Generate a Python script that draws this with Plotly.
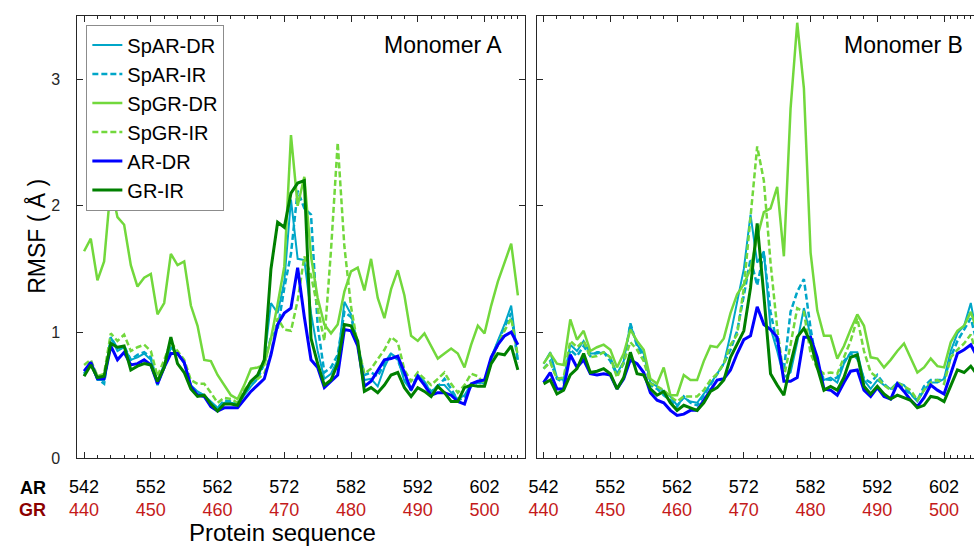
import plotly.graph_objects as go

residues = list(range(542, 608))

# ---------------- Monomer A ----------------
a_spar_dr = [0.66,0.75,0.62,0.62,0.96,0.85,0.88,0.78,0.80,0.83,0.78,0.61,0.74,0.88,0.83,0.75,0.58,0.53,0.50,0.45,
             0.40,0.44,0.44,0.43,0.50,0.57,0.63,0.78,1.23,1.15,1.40,2.05,1.58,1.57,1.15,0.85,0.63,0.67,0.78,1.24,
             1.14,0.90,0.62,0.63,0.57,0.72,0.83,0.79,0.61,0.54,0.66,0.61,0.52,0.58,0.58,0.52,0.47,0.50,0.59,0.61,
             0.59,0.80,0.93,1.06,1.21,0.78]
a_spar_ir = [0.67,0.76,0.63,0.59,0.96,0.87,0.89,0.78,0.82,0.84,0.80,0.58,0.74,0.88,0.83,0.76,0.57,0.52,0.50,0.43,
             0.40,0.46,0.45,0.44,0.52,0.58,0.63,0.75,0.96,1.02,1.35,1.62,2.12,1.98,1.93,1.05,0.68,0.72,0.82,1.16,
             1.12,0.88,0.66,0.68,0.65,0.75,0.83,0.78,0.64,0.55,0.66,0.60,0.53,0.57,0.63,0.55,0.46,0.48,0.57,0.60,
             0.59,0.78,0.92,1.04,1.15,0.76]
a_spgr_dr = [1.64,1.74,1.41,1.56,2.16,1.91,1.85,1.53,1.36,1.43,1.46,1.14,1.23,1.62,1.53,1.56,1.21,1.05,0.78,0.77,
             0.66,0.58,0.50,0.47,0.58,0.71,0.72,0.74,0.95,1.22,1.52,2.56,2.00,2.23,1.60,1.27,1.06,0.99,1.06,1.32,
             1.48,1.51,1.33,1.58,1.27,1.11,1.34,1.49,1.29,0.97,0.93,0.99,0.89,0.79,0.83,0.87,0.83,0.72,0.90,1.05,
             0.99,1.21,1.40,1.55,1.70,1.29]
a_spgr_ir = [0.74,0.78,0.65,0.67,0.99,0.93,0.98,0.85,0.88,0.90,0.85,0.65,0.78,0.92,0.85,0.78,0.62,0.59,0.59,0.52,
             0.44,0.48,0.47,0.44,0.54,0.61,0.63,0.67,0.83,1.11,1.02,1.01,1.25,1.60,1.45,1.20,0.93,1.65,2.50,1.68,
             1.20,0.90,0.67,0.71,0.79,0.86,0.96,0.92,0.70,0.61,0.68,0.63,0.58,0.63,0.68,0.59,0.52,0.58,0.67,0.65,
             0.59,0.76,0.90,1.01,1.11,0.81]
a_ar_dr = [0.69,0.76,0.63,0.63,0.89,0.78,0.84,0.74,0.75,0.78,0.74,0.59,0.72,0.83,0.83,0.76,0.57,0.50,0.49,0.41,
           0.375,0.40,0.40,0.40,0.465,0.53,0.58,0.63,0.82,1.06,1.15,1.19,1.51,1.12,0.78,0.72,0.56,0.61,0.66,1.02,
           1.01,0.89,0.57,0.61,0.70,0.78,0.79,0.81,0.68,0.54,0.65,0.58,0.50,0.52,0.52,0.50,0.45,0.43,0.59,0.61,
           0.62,0.80,0.90,0.97,1.00,0.90]
a_gr_ir = [0.65,0.74,0.64,0.65,0.91,0.88,0.89,0.70,0.73,0.75,0.74,0.61,0.72,0.96,0.75,0.68,0.55,0.49,0.50,0.43,
           0.375,0.43,0.43,0.42,0.52,0.61,0.66,0.78,1.50,1.87,1.83,2.10,2.18,2.20,0.95,0.75,0.58,0.62,0.75,1.06,
           1.05,0.93,0.53,0.56,0.52,0.58,0.66,0.68,0.56,0.49,0.56,0.53,0.49,0.57,0.52,0.45,0.45,0.56,0.58,0.57,
           0.57,0.75,0.83,0.82,0.89,0.70]

# ---------------- Monomer B ----------------
b_spar_dr = [0.75,0.84,0.64,0.62,0.90,0.85,0.93,0.83,0.83,0.84,0.80,0.67,0.77,1.06,0.90,0.83,0.60,0.57,0.53,0.49,
             0.42,0.48,0.45,0.44,0.51,0.59,0.67,0.75,0.98,1.24,1.50,1.93,1.55,1.64,1.03,0.85,0.64,0.68,0.92,1.19,
             0.98,0.75,0.62,0.64,0.60,0.75,0.84,0.84,0.62,0.55,0.62,0.58,0.55,0.60,0.58,0.51,0.45,0.54,0.60,0.60,
             0.63,0.85,0.99,1.05,1.23,0.95]
b_spar_ir = [0.71,0.77,0.63,0.60,0.86,0.81,0.89,0.81,0.84,0.84,0.77,0.66,0.75,1.07,0.89,0.80,0.58,0.55,0.50,0.46,
             0.41,0.49,0.44,0.42,0.50,0.58,0.66,0.75,0.86,1.01,1.29,1.58,1.37,1.63,1.16,0.90,0.70,1.16,1.32,1.42,
             1.03,0.72,0.63,0.62,0.64,0.77,0.83,0.79,0.63,0.60,0.66,0.59,0.54,0.59,0.55,0.51,0.46,0.57,0.62,0.62,
             0.62,0.80,0.93,1.02,1.11,0.90]
b_spgr_dr = [0.75,0.83,0.75,0.74,1.10,0.94,1.01,0.85,0.88,0.90,0.86,0.72,0.83,1.02,0.93,0.86,0.63,0.59,0.72,0.50,
             0.50,0.66,0.62,0.62,0.77,0.89,0.88,0.95,1.15,1.30,1.38,1.50,1.75,1.95,1.98,2.15,1.60,2.77,3.45,2.93,
             1.63,1.17,0.97,0.97,0.79,0.89,1.02,1.14,1.05,0.80,0.79,0.72,0.78,0.85,0.91,0.80,0.68,0.72,0.79,0.73,
             0.72,0.92,1.01,1.05,1.16,1.00]
b_spgr_ir = [0.71,0.76,0.63,0.64,0.93,0.88,0.93,0.80,0.81,0.84,0.80,0.64,0.76,0.92,0.86,0.77,0.59,0.57,0.54,0.49,
             0.45,0.49,0.49,0.49,0.54,0.62,0.67,0.75,0.90,0.98,1.35,1.94,2.47,2.20,1.55,1.03,0.64,0.90,1.19,1.16,
             0.83,0.71,0.67,0.68,0.67,0.80,0.93,1.11,0.85,0.68,0.64,0.58,0.54,0.60,0.57,0.54,0.46,0.54,0.60,0.62,
             0.59,0.80,0.86,0.91,0.98,0.80]
b_ar_dr = [0.60,0.68,0.55,0.55,0.82,0.72,0.78,0.67,0.66,0.67,0.66,0.55,0.63,0.78,0.75,0.68,0.52,0.46,0.44,0.38,
           0.34,0.35,0.38,0.38,0.46,0.54,0.62,0.63,0.70,0.83,0.94,0.97,1.20,1.06,1.02,0.96,0.61,0.61,0.64,0.96,
           0.96,0.80,0.55,0.54,0.50,0.60,0.69,0.70,0.54,0.49,0.56,0.49,0.47,0.59,0.53,0.46,0.41,0.48,0.58,0.54,
           0.51,0.67,0.83,0.86,0.90,0.80]
b_gr_ir = [0.59,0.62,0.51,0.54,0.66,0.71,0.83,0.68,0.69,0.71,0.67,0.55,0.64,0.84,0.67,0.66,0.55,0.50,0.53,0.44,
           0.38,0.42,0.40,0.38,0.44,0.53,0.56,0.62,0.80,0.90,1.01,1.35,1.86,1.29,0.67,0.58,0.50,0.75,0.96,1.03,
           0.92,0.72,0.54,0.57,0.54,0.64,0.80,0.82,0.57,0.51,0.57,0.51,0.47,0.50,0.48,0.46,0.40,0.42,0.49,0.48,
           0.45,0.58,0.70,0.68,0.73,0.66]

series_names = ["SpAR-DR", "SpAR-IR", "SpGR-DR", "SpGR-IR", "AR-DR", "GR-IR"]
panel_a = [a_spar_dr, a_spar_ir, a_spgr_dr, a_spgr_ir, a_ar_dr, a_gr_ir]
panel_b = [b_spar_dr, b_spar_ir, b_spgr_dr, b_spgr_ir, b_ar_dr, b_gr_ir]

ar_ticks = [542, 552, 562, 572, 582, 592, 602]
gr_ticks = [440, 450, 460, 470, 480, 490, 500]
y_ticks = [0, 1, 2, 3]

CYAN = "#00A6C8"
LGREEN = "#72D83C"
BLUE = "#0000FF"
DGREEN = "#008000"
styles = [
    dict(color=CYAN, width=2.0, dash="solid"),
    dict(color=CYAN, width=2.5, dash="6px,3px"),
    dict(color=LGREEN, width=2.5, dash="solid"),
    dict(color=LGREEN, width=2.5, dash="6px,3px"),
    dict(color=BLUE, width=3.0, dash="solid"),
    dict(color=DGREEN, width=3.0, dash="solid"),
]

fig = go.Figure()
for name, ys, st in zip(series_names, panel_a, styles):
    fig.add_trace(go.Scatter(x=residues, y=ys, mode="lines", name=name, line=st,
                             xaxis="x", yaxis="y", showlegend=True))
for name, ys, st in zip(series_names, panel_b, styles):
    fig.add_trace(go.Scatter(x=residues, y=ys, mode="lines", name=name, line=st,
                             xaxis="x2", yaxis="y2", showlegend=False))

W, H = 974, 547
AX = "#262626"
FONT = "Liberation Sans, Arial, sans-serif"
ticktext = [f"{a}<br><span style='color:#C41A1A'>{g}</span>" for a, g in zip(ar_ticks, gr_ticks)]
minor_vals = [v for v in range(544, 602, 2) if (v - 542) % 10 != 0] + [603, 604, 605, 606, 607]

xcommon = dict(showline=True, linecolor=AX, linewidth=1, mirror="ticks",
               ticks="inside", ticklen=6, tickwidth=1, tickcolor=AX,
               tickmode="array", tickvals=ar_ticks, ticktext=ticktext,
               tickfont=dict(family=FONT, size=18, color="#000000"),
               ticklabelstandoff=12, showgrid=False, zeroline=False,
               minor=dict(tickvals=minor_vals, ticks="inside", ticklen=3, tickcolor=AX, tickwidth=1))

ydom = [1 - 466 / H, 1 - 16.7 / H]
fig.update_layout(
    width=W, height=H, margin=dict(l=0, r=0, t=0, b=0),
    paper_bgcolor="white", plot_bgcolor="white",
    font=dict(family=FONT, color="#000000"),
    xaxis=dict(domain=[70 / W, 521.5 / W], range=[541, 608.1], **xcommon),
    xaxis2=dict(domain=[533.3 / W, 1.0], anchor="y2", range=[541, 541 + (W - 533.3) / 6.73], **xcommon),
    yaxis=dict(domain=ydom, range=[0, 3.5], showline=True, linecolor=AX, linewidth=1, mirror="ticks",
               ticks="inside", ticklen=6, tickcolor=AX, tickvals=y_ticks,
               tickfont=dict(family=FONT, size=16, color=AX), ticklabelstandoff=13,
               showgrid=False, zeroline=False),
    yaxis2=dict(domain=ydom, range=[0, 3.5], anchor="x2", showline=True, linecolor=AX, linewidth=1,
                mirror=False, ticks="inside", ticklen=6, tickcolor=AX, tickvals=y_ticks,
                showticklabels=False, showgrid=False, zeroline=False),
    legend=dict(x=79 / W, y=1 - 25 / H, xanchor="left", yanchor="top",
                bgcolor="white", bordercolor="#8C8C8C", borderwidth=1,
                font=dict(family=FONT, size=20, color="#000000"), tracegroupgap=0,
                itemwidth=30),
    showlegend=True,
)

ann = [
    dict(text="Monomer A", x=500 / W, y=1 - 46 / H, xanchor="right", yanchor="middle", font=dict(size=23)),
    dict(text="Monomer B", x=965 / W, y=1 - 46 / H, xanchor="right", yanchor="middle", font=dict(size=23)),
    dict(text="RMSF ( Å )", x=28 / W, y=1 - 240 / H, xanchor="center", yanchor="middle", textangle=-90,
         font=dict(size=23)),
    dict(text="Protein sequence", x=277 / W, y=1 - 541 / H, xanchor="center", yanchor="middle",
         font=dict(size=24)),
    dict(text="<b>AR</b>", x=25 / W, y=1 - 496 / H, xanchor="center", yanchor="middle",
         font=dict(size=18, color="#000000")),
    dict(text="<b>GR</b>", x=25 / W, y=1 - 519 / H, xanchor="center", yanchor="middle",
         font=dict(size=18, color="#8B0000")),
]
for a in ann:
    a.update(xref="paper", yref="paper", showarrow=False)
    a["font"] = {**dict(family=FONT, color="#000000"), **a["font"]}
fig.update_layout(annotations=ann)

fig.write_html("out.html")
